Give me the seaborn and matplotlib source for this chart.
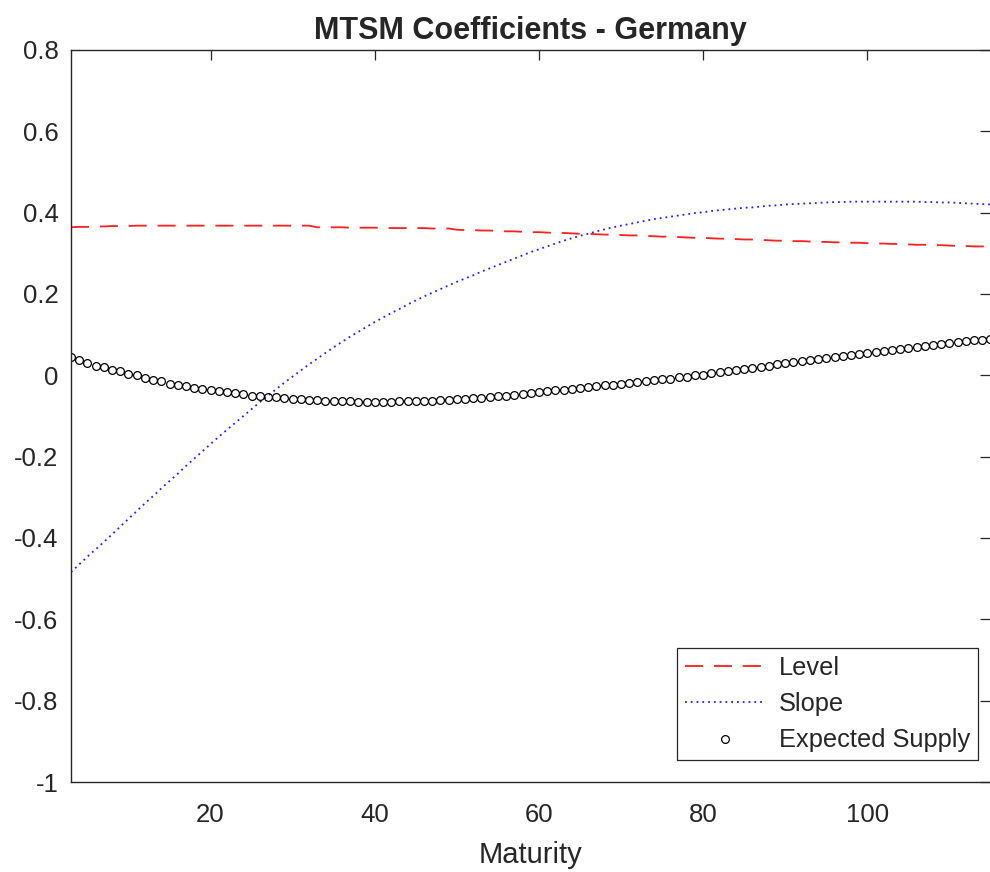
import numpy as np
import pandas as pd
import matplotlib
matplotlib.use("Agg")
import matplotlib.pyplot as plt
import seaborn as sb

# maturities (months)
maturity = list(range(3, 116))

level = [
    0.364, 0.365, 0.365, 0.366, 0.366, 0.367, 0.367, 0.367,            # 3-10
    0.368, 0.368, 0.368, 0.368, 0.368, 0.368, 0.368, 0.368, 0.368, 0.368,  # 11-20
    0.368, 0.368, 0.368, 0.368, 0.368, 0.368, 0.368, 0.368, 0.368, 0.368,  # 21-30
    0.368, 0.368, 0.364, 0.364, 0.364, 0.364, 0.363, 0.363, 0.363, 0.363,  # 31-40
    0.363, 0.362, 0.362, 0.362, 0.362, 0.362, 0.361, 0.361, 0.361, 0.358,  # 41-50
    0.357, 0.357, 0.356, 0.356, 0.355, 0.354, 0.354, 0.353, 0.352, 0.352,  # 51-60
    0.351, 0.350, 0.350, 0.349, 0.348, 0.348, 0.347, 0.346, 0.346, 0.345,  # 61-70
    0.344, 0.344, 0.343, 0.342, 0.341, 0.341, 0.340, 0.339, 0.338, 0.338,  # 71-80
    0.337, 0.336, 0.336, 0.335, 0.334, 0.334, 0.333, 0.332, 0.331, 0.331,  # 81-90
    0.330, 0.330, 0.329, 0.328, 0.328, 0.327, 0.327, 0.326, 0.326, 0.325,  # 91-100
    0.324, 0.324, 0.323, 0.323, 0.322, 0.321, 0.321, 0.320, 0.320, 0.319,  # 101-110
    0.318, 0.318, 0.317, 0.317, 0.316,                                  # 111-115
]

slope = [
    -0.484, -0.465, -0.446, -0.428, -0.410, -0.391, -0.372, -0.353,      # 3-10
    -0.334, -0.315, -0.297, -0.278, -0.260, -0.242, -0.223, -0.205, -0.187, -0.169,  # 11-20
    -0.151, -0.134, -0.117, -0.100, -0.083, -0.066, -0.050, -0.034, -0.018, -0.003,  # 21-30
    0.012, 0.027, 0.041, 0.055, 0.069, 0.082, 0.095, 0.107, 0.119, 0.131,  # 31-40
    0.142, 0.153, 0.163, 0.174, 0.184, 0.194, 0.203, 0.212, 0.221, 0.230,  # 41-50
    0.238, 0.246, 0.255, 0.263, 0.271, 0.279, 0.287, 0.295, 0.303, 0.310,  # 51-60
    0.317, 0.324, 0.331, 0.337, 0.343, 0.348, 0.354, 0.359, 0.364, 0.368,  # 61-70
    0.372, 0.376, 0.380, 0.384, 0.387, 0.390, 0.393, 0.396, 0.399, 0.401,  # 71-80
    0.404, 0.406, 0.408, 0.410, 0.412, 0.413, 0.415, 0.417, 0.418, 0.420,  # 81-90
    0.421, 0.422, 0.423, 0.424, 0.425, 0.426, 0.426, 0.427, 0.427, 0.427,  # 91-100
    0.427, 0.427, 0.427, 0.427, 0.427, 0.427, 0.426, 0.426, 0.425, 0.425,  # 101-110
    0.424, 0.423, 0.422, 0.421, 0.420,                                  # 111-115
]

expected_supply = [
    0.044, 0.037, 0.030, 0.024, 0.020, 0.014, 0.011, 0.004,            # 3-10
    0.001, -0.007, -0.012, -0.015, -0.021, -0.024, -0.027, -0.031, -0.034, -0.037,  # 11-20
    -0.039, -0.040, -0.044, -0.047, -0.050, -0.050, -0.054, -0.054, -0.057, -0.058,  # 21-30
    -0.058, -0.060, -0.061, -0.062, -0.063, -0.064, -0.064, -0.065, -0.065, -0.065,  # 31-40
    -0.065, -0.065, -0.064, -0.064, -0.063, -0.063, -0.062, -0.061, -0.060, -0.059,  # 41-50
    -0.058, -0.057, -0.055, -0.054, -0.052, -0.050, -0.048, -0.046, -0.043, -0.041,  # 51-60
    -0.039, -0.037, -0.035, -0.033, -0.031, -0.029, -0.027, -0.025, -0.023, -0.021,  # 61-70
    -0.019, -0.017, -0.015, -0.012, -0.010, -0.008, -0.005, -0.003, 0.000, 0.002,  # 71-80
    0.005, 0.008, 0.010, 0.013, 0.016, 0.018, 0.021, 0.024, 0.027, 0.030,  # 81-90
    0.032, 0.035, 0.037, 0.040, 0.042, 0.045, 0.047, 0.050, 0.052, 0.055,  # 91-100
    0.057, 0.060, 0.062, 0.065, 0.067, 0.070, 0.072, 0.075, 0.077, 0.079,  # 101-110
    0.082, 0.084, 0.086, 0.088, 0.090,                                  # 111-115
]

yticks = [-1, -0.8, -0.6, -0.4, -0.2, 0, 0.2, 0.4, 0.6, 0.8]
ytick_labels = ["-1", "-0.8", "-0.6", "-0.4", "-0.2", "0", "0.2", "0.4", "0.6", "0.8"]

df = pd.DataFrame({"Maturity": maturity, "Level": level,
                   "Slope": slope, "Expected Supply": expected_supply})

sb.set_style("white")
plt.rcParams["font.family"] = ["Liberation Sans", "DejaVu Sans"]

fig = plt.figure(figsize=(9.9, 8.72), dpi=100)
ax = fig.add_axes([0.0717, 0.1032, 0.9288, 0.8395])

sb.lineplot(data=df, x="Maturity", y="Level", color="#ff2020",
            linewidth=1.3, ax=ax, label="Level")
ax.lines[-1].set_dashes((10, 6))
sb.lineplot(data=df, x="Maturity", y="Slope", color="#2020ff",
            linewidth=1.3, ax=ax, label="Slope")
ax.lines[-1].set_dashes((1, 2.2))
sb.lineplot(data=df, x="Maturity", y="Expected Supply", color="black",
            linestyle="none", marker="o", markersize=5.6,
            markerfacecolor="none", markeredgecolor="black",
            markeredgewidth=0.9, ax=ax, label="Expected Supply")

ax.set_xlim(3, 115)
ax.set_ylim(-1, 0.8)
ax.set_xticks([20, 40, 60, 80, 100])
ax.set_yticks(yticks)
ax.set_yticklabels(ytick_labels)

ax.set_title("MTSM Coefficients - Germany", fontsize=22, fontweight="bold", pad=8)
ax.set_xlabel("Maturity", fontsize=21, color="#262626", labelpad=10)
ax.set_ylabel("")

for s in ax.spines.values():
    s.set_color("#262626")
    s.set_linewidth(1.0)
ax.spines["right"].set_visible(False)
ax.tick_params(axis="both", direction="in", length=7, width=0.9,
               colors="#262626", labelsize=18.5,
               top=True, right=True)
ax.tick_params(axis="x", pad=15)
ax.tick_params(axis="y", pad=9)

leg = ax.legend(loc="lower right", bbox_to_anchor=(0.986, 0.030),
                borderaxespad=0, fontsize=18.3, fancybox=False,
                framealpha=1, edgecolor="#262626", handlelength=3.2,
                handletextpad=0.5, labelspacing=0.48, borderpad=0.3,
                numpoints=1)
leg.get_frame().set_linewidth(0.9)

fig.savefig("out.png", dpi=100)
